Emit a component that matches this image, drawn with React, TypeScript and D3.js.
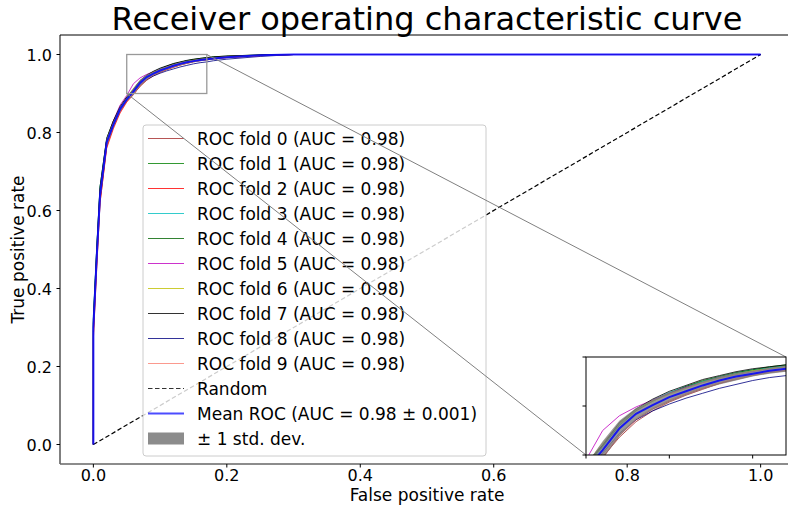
import * as d3 from 'd3';

// shared false-positive-rate grid for every curve
const fprGrid = [0, 0, 0.005, 0.01, 0.02, 0.03, 0.04, 0.05, 0.06, 0.07, 0.08, 0.09, 0.1, 0.11, 0.12, 0.13, 0.14, 0.15, 0.16, 0.17, 0.18, 0.2, 0.25, 0.3, 1.0];

const foldTpr0 = [0, 0.28, 0.46, 0.62, 0.765, 0.815, 0.855, 0.88, 0.898, 0.918, 0.934, 0.945, 0.954, 0.961, 0.967, 0.973, 0.977, 0.981, 0.984, 0.986, 0.989, 0.992, 0.997, 1, 1];
const foldTpr1 = [0, 0.32, 0.5, 0.66, 0.785, 0.83, 0.865, 0.89, 0.91, 0.932, 0.946, 0.955, 0.963, 0.969, 0.975, 0.979, 0.983, 0.986, 0.989, 0.991, 0.993, 0.995, 0.998, 1, 1];
const foldTpr2 = [0, 0.27, 0.45, 0.62, 0.76, 0.81, 0.85, 0.878, 0.897, 0.92, 0.936, 0.947, 0.955, 0.962, 0.968, 0.973, 0.978, 0.982, 0.985, 0.987, 0.989, 0.992, 0.997, 1, 1];
const foldTpr3 = [0, 0.33, 0.5, 0.66, 0.78, 0.825, 0.862, 0.888, 0.908, 0.931, 0.946, 0.956, 0.964, 0.97, 0.975, 0.98, 0.984, 0.987, 0.989, 0.991, 0.993, 0.995, 0.998, 1, 1];
const foldTpr4 = [0, 0.31, 0.49, 0.65, 0.78, 0.825, 0.863, 0.889, 0.909, 0.93, 0.945, 0.955, 0.963, 0.97, 0.976, 0.98, 0.984, 0.987, 0.99, 0.992, 0.994, 0.996, 0.999, 1, 1];
const foldTpr5 = [0, 0.3, 0.48, 0.65, 0.78, 0.83, 0.87, 0.895, 0.925, 0.94, 0.949, 0.956, 0.963, 0.969, 0.974, 0.979, 0.982, 0.985, 0.988, 0.99, 0.992, 0.995, 0.998, 1, 1];
const foldTpr6 = [0, 0.31, 0.49, 0.65, 0.78, 0.826, 0.864, 0.89, 0.912, 0.932, 0.946, 0.955, 0.962, 0.968, 0.974, 0.978, 0.982, 0.986, 0.988, 0.99, 0.992, 0.995, 0.998, 1, 1];
const foldTpr7 = [0, 0.32, 0.5, 0.66, 0.785, 0.83, 0.866, 0.891, 0.91, 0.933, 0.947, 0.957, 0.965, 0.971, 0.977, 0.981, 0.985, 0.988, 0.99, 0.992, 0.994, 0.996, 0.999, 1, 1];
const foldTpr8 = [0, 0.29, 0.47, 0.63, 0.77, 0.815, 0.855, 0.882, 0.902, 0.922, 0.936, 0.945, 0.952, 0.958, 0.963, 0.968, 0.972, 0.976, 0.979, 0.981, 0.984, 0.988, 0.995, 1, 1];
const foldTpr9 = [0, 0.29, 0.47, 0.63, 0.77, 0.815, 0.856, 0.882, 0.9, 0.921, 0.937, 0.948, 0.956, 0.963, 0.969, 0.974, 0.978, 0.982, 0.985, 0.987, 0.99, 0.993, 0.997, 1, 1];

const meanTpr = [0, 0.3, 0.48, 0.64, 0.775, 0.82, 0.86, 0.885, 0.905, 0.927, 0.942, 0.951, 0.959, 0.965, 0.971, 0.976, 0.98, 0.983, 0.986, 0.988, 0.99, 0.993, 0.998, 1, 1];
const stdTpr = [0, 0.02, 0.02, 0.015, 0.01, 0.007, 0.006, 0.005, 0.009, 0.008, 0.006, 0.005, 0.005, 0.004, 0.004, 0.004, 0.004, 0.003, 0.003, 0.003, 0.003, 0.002, 0.001, 0, 0];

const folds = [foldTpr0, foldTpr1, foldTpr2, foldTpr3, foldTpr4, foldTpr5, foldTpr6, foldTpr7, foldTpr8, foldTpr9];
const foldColors = ['#a52a2a', '#008000', '#ff0000', '#00bfbf', '#006400', '#bf00bf', '#bfbf00', '#000000', '#000080', '#fa8072'];
const foldAuc = ['0.98', '0.98', '0.98', '0.98', '0.98', '0.98', '0.98', '0.98', '0.98', '0.98'];

const xTicks = [0, 0.2, 0.4, 0.6, 0.8, 1.0];
const yTicks = [0, 0.2, 0.4, 0.6, 0.8, 1.0];
const zoomX = [0.05, 0.17];
const zoomY = [0.9, 1.0];
const insetXTicks = [0.05, 0.1, 0.15];
const insetYTicks = [0.9, 0.95, 1.0];

const font = 'DejaVu Sans, sans-serif';

export default function App() {
  const width = 788;
  const height = 510;
  const left = 60, right = 794, top = 35, bottom = 464;

  const x = d3.scaleLinear().domain([-0.05, 1.05]).range([left, right]);
  const y = d3.scaleLinear().domain([-0.05, 1.05]).range([bottom, top]);

  const ix = d3.scaleLinear().domain(zoomX).range([586, 786]);
  const iy = d3.scaleLinear().domain(zoomY).range([455, 357]);

  const lineFor = (sx: d3.ScaleLinear<number, number>, sy: d3.ScaleLinear<number, number>) =>
    d3.line<number>().x((_, i) => sx(fprGrid[i])).y((d) => sy(d));
  const areaFor = (sx: d3.ScaleLinear<number, number>, sy: d3.ScaleLinear<number, number>) =>
    d3.area<number>()
      .x((_, i) => sx(fprGrid[i]))
      .y0((d, i) => sy(Math.max(d - stdTpr[i], 0)))
      .y1((d, i) => sy(Math.min(d + stdTpr[i], 1)));

  const curves = (sx: d3.ScaleLinear<number, number>, sy: d3.ScaleLinear<number, number>, withRandom: boolean) => {
    const line = lineFor(sx, sy);
    const area = areaFor(sx, sy);
    return (
      <g>
        {folds.map((f, k) => (
          <path key={k} d={line(f) || ''} fill="none" stroke={foldColors[k]} strokeOpacity={0.8} strokeWidth={1} />
        ))}
        {withRandom && (
          <line x1={sx(0)} y1={sy(0)} x2={sx(1)} y2={sy(1)} stroke="#000" strokeWidth={1.2} strokeDasharray="4.5,2.5" />
        )}
        <path d={area(meanTpr) || ''} fill="grey" fillOpacity={0.8} />
        <path d={line(meanTpr) || ''} fill="none" stroke="#0000ff" strokeOpacity={0.85} strokeWidth={2} />
      </g>
    );
  };

  const legendItems = [
    ...folds.map((_, k) => ({ label: `ROC fold ${k} (AUC = ${foldAuc[k]})`, kind: 'line', color: foldColors[k] })),
    { label: 'Random', kind: 'dash', color: '#000' },
    { label: 'Mean ROC (AUC = 0.98 \u00b1 0.001)', kind: 'mean', color: '#0000ff' },
    { label: '\u00b1 1 std. dev.', kind: 'patch', color: 'grey' },
  ];

  const legX = 143, legY = 125, legW = 343, legH = 331;
  const rowY0 = 138.5, rowStep = 25;

  return (
    <svg width={width} height={height} style={{ position: 'absolute', left: 0, top: 0, background: '#fff' }} fontFamily={font}>
      <defs>
        <clipPath id="mainClip">
          <rect x={left} y={top} width={right - left} height={bottom - top} />
        </clipPath>
        <clipPath id="insetClip">
          <rect x={586} y={357} width={200} height={98} />
        </clipPath>
      </defs>
      <rect x={0} y={0} width={width} height={height} fill="#fff" />

      {/* title */}
      <text x={(left + right) / 2} y={30} textAnchor="middle" fontSize={32} fill="#000">
        Receiver operating characteristic curve
      </text>

      {/* main curves */}
      <g clipPath="url(#mainClip)">{curves(x, y, true)}</g>

      {/* zoom rectangle */}
      <rect x={x(zoomX[0])} y={y(zoomY[1])} width={x(zoomX[1]) - x(zoomX[0])} height={y(zoomY[0]) - y(zoomY[1])}
        fill="none" stroke="#999" strokeWidth={1.3} />

      {/* spines */}
      <line x1={left} x2={left} y1={top} y2={bottom} stroke="#000" strokeWidth={1} />
      <line x1={left} x2={right} y1={top} y2={top} stroke="#000" strokeWidth={1} />
      <line x1={left} x2={right} y1={bottom} y2={bottom} stroke="#666" strokeWidth={1.6} />

      {/* x axis */}
      {xTicks.map((t) => (
        <g key={t}>
          <line x1={x(t)} x2={x(t)} y1={bottom} y2={bottom + 3.5} stroke="#000" />
          <text x={x(t)} y={481} textAnchor="middle" fontSize={16}>{t.toFixed(1)}</text>
        </g>
      ))}
      <text x={(left + right) / 2} y={501} textAnchor="middle" fontSize={17}>False positive rate</text>

      {/* y axis */}
      {yTicks.map((t) => (
        <g key={t}>
          <line x1={left - 3.5} x2={left} y1={y(t)} y2={y(t)} stroke="#000" />
          <text x={52} y={y(t) + 6} textAnchor="end" fontSize={16}>{t.toFixed(1)}</text>
        </g>
      ))}
      <text transform={`translate(24, ${(top + bottom) / 2}) rotate(-90)`} textAnchor="middle" fontSize={17}>
        True positive rate
      </text>

      {/* legend */}
      <rect x={legX} y={legY} width={legW} height={legH} rx={3} fill="#fff" fillOpacity={0.8} stroke="#ccc" strokeWidth={1} />
      {legendItems.map((it, k) => {
        const cy = rowY0 + k * rowStep;
        return (
          <g key={k}>
            {it.kind === 'line' && (
              <line x1={148} x2={184} y1={cy} y2={cy} stroke={it.color} strokeOpacity={0.8} strokeWidth={1} />
            )}
            {it.kind === 'dash' && (
              <line x1={148} x2={184} y1={cy} y2={cy} stroke={it.color} strokeOpacity={0.8} strokeWidth={1.2} strokeDasharray="4.5,2.5" />
            )}
            {it.kind === 'mean' && (
              <line x1={148} x2={184} y1={cy} y2={cy} stroke={it.color} strokeOpacity={0.7} strokeWidth={2} />
            )}
            {it.kind === 'patch' && (
              <rect x={148} y={cy - 6} width={36} height={12} fill={it.color} fillOpacity={0.9} />
            )}
            <text x={197} y={cy + 6} fontSize={17} fill="#000">{it.label}</text>
          </g>
        );
      })}

      {/* connector lines of the zoom */}
      <line x1={x(zoomX[1])} y1={y(zoomY[1])} x2={786} y2={357} stroke="#808080" strokeWidth={1} />
      <line x1={x(zoomX[0])} y1={y(zoomY[0])} x2={586} y2={455} stroke="#808080" strokeWidth={1} />

      {/* inset */}
      <rect x={586} y={357} width={200} height={98} fill="#fff" />
      <g clipPath="url(#insetClip)">{curves(ix, iy, false)}</g>
      <rect x={586} y={357} width={200} height={98} fill="none" stroke="#000" strokeWidth={1} />
      {insetXTicks.map((t) => (
        <line key={t} x1={ix(t)} x2={ix(t)} y1={455} y2={458.5} stroke="#000" />
      ))}
      {insetYTicks.map((t) => (
        <line key={t} x1={582.5} x2={586} y1={iy(t)} y2={iy(t)} stroke="#000" />
      ))}
    </svg>
  );
}
